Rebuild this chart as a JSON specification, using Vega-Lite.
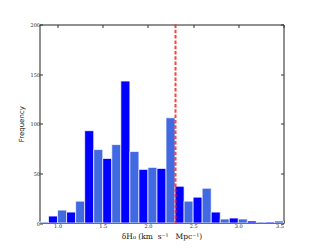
{
  "$schema": "https://vega.github.io/schema/vega-lite/v6.json",
  "width": 244,
  "height": 198.5,
  "autosize": "none",
  "padding": {"left": 39.5, "top": 24.5, "right": 31.5, "bottom": 25},
  "background": "white",
  "config": {
    "view": {"stroke": "#222", "strokeWidth": 1},
    "axis": {
      "grid": false,
      "domain": false,
      "tickColor": "#333",
      "tickSize": -3,
      "labelFont": "DejaVu Serif",
      "labelFontSize": 5,
      "labelColor": "#222",
      "titleFontWeight": "normal",
      "titleColor": "#111"
    }
  },
  "layer": [
    {
      "data": {"values": [
        {"start": 0.8, "end": 0.9, "count": 1, "shade": "light"},
        {"start": 0.9, "end": 1.0, "count": 7, "shade": "dark"},
        {"start": 1.0, "end": 1.1, "count": 13, "shade": "light"},
        {"start": 1.1, "end": 1.2, "count": 11, "shade": "dark"},
        {"start": 1.2, "end": 1.3, "count": 22, "shade": "light"},
        {"start": 1.3, "end": 1.4, "count": 93, "shade": "dark"},
        {"start": 1.4, "end": 1.5, "count": 74, "shade": "light"},
        {"start": 1.5, "end": 1.6, "count": 65, "shade": "dark"},
        {"start": 1.6, "end": 1.7, "count": 79, "shade": "light"},
        {"start": 1.7, "end": 1.8, "count": 143, "shade": "dark"},
        {"start": 1.8, "end": 1.9, "count": 72, "shade": "light"},
        {"start": 1.9, "end": 2.0, "count": 54, "shade": "dark"},
        {"start": 2.0, "end": 2.1, "count": 56, "shade": "light"},
        {"start": 2.1, "end": 2.2, "count": 55, "shade": "dark"},
        {"start": 2.2, "end": 2.3, "count": 106, "shade": "light"},
        {"start": 2.3, "end": 2.4, "count": 37, "shade": "dark"},
        {"start": 2.4, "end": 2.5, "count": 22, "shade": "light"},
        {"start": 2.5, "end": 2.6, "count": 26, "shade": "dark"},
        {"start": 2.6, "end": 2.7, "count": 35, "shade": "light"},
        {"start": 2.7, "end": 2.8, "count": 11, "shade": "dark"},
        {"start": 2.8, "end": 2.9, "count": 4, "shade": "light"},
        {"start": 2.9, "end": 3.0, "count": 5, "shade": "dark"},
        {"start": 3.0, "end": 3.1, "count": 4, "shade": "light"},
        {"start": 3.1, "end": 3.2, "count": 2, "shade": "dark"},
        {"start": 3.2, "end": 3.3, "count": 1, "shade": "light"},
        {"start": 3.3, "end": 3.4, "count": 1, "shade": "dark"},
        {"start": 3.4, "end": 3.5, "count": 2, "shade": "light"}
      ]},
      "mark": {"type": "bar", "stroke": "white", "strokeWidth": 0.7},
      "encoding": {
        "x": {
          "field": "start", "type": "quantitative",
          "scale": {"domain": [0.8, 3.5], "nice": false, "zero": false},
          "axis": {"orient": "bottom", "values": [1.0, 1.5, 2.0, 2.5, 3.0, 3.5], "format": ".1f", "labelPadding": 3,
                   "title": "δH₀ (km\u00a0\u00a0s⁻¹\u00a0\u00a0\u00a0Mpc⁻¹)", "titleFont": "DejaVu Serif", "titleFontSize": 7.5, "titlePadding": 4}
        },
        "x2": {"field": "end"},
        "y": {
          "field": "count", "type": "quantitative",
          "scale": {"domain": [0, 200], "nice": false},
          "axis": {"orient": "left", "values": [0, 50, 100, 150, 200], "labelPadding": 3,
                   "title": "Frequency", "titleFont": "DejaVu Sans", "titleFontSize": 7, "titlePadding": 5}
        },
        "y2": {"datum": 0},
        "color": {
          "field": "shade", "type": "nominal",
          "scale": {"domain": ["dark", "light"], "range": ["#0000ff", "#4169e1"]},
          "legend": null
        }
      }
    },
    {
      "data": {"values": [{"x": 2.305}]},
      "mark": {"type": "rule", "color": "#ff2020", "opacity": 0.85, "strokeWidth": 2, "strokeDash": [3.5, 1.8]},
      "encoding": {
        "x": {
          "field": "x", "type": "quantitative",
          "scale": {"domain": [0.8, 3.5], "nice": false, "zero": false},
          "axis": {"orient": "top", "values": [1.0, 1.5, 2.0, 2.5, 3.0, 3.5], "labels": false, "title": null}
        }
      }
    },
    {
      "data": {"values": [{"v": 0}]},
      "mark": {"type": "point", "opacity": 0},
      "encoding": {
        "y": {
          "field": "v", "type": "quantitative",
          "scale": {"domain": [0, 200], "nice": false},
          "axis": {"orient": "right", "values": [0, 50, 100, 150, 200], "labels": false, "title": null}
        }
      }
    }
  ],
  "resolve": {"axis": {"x": "independent", "y": "independent"}}
}
